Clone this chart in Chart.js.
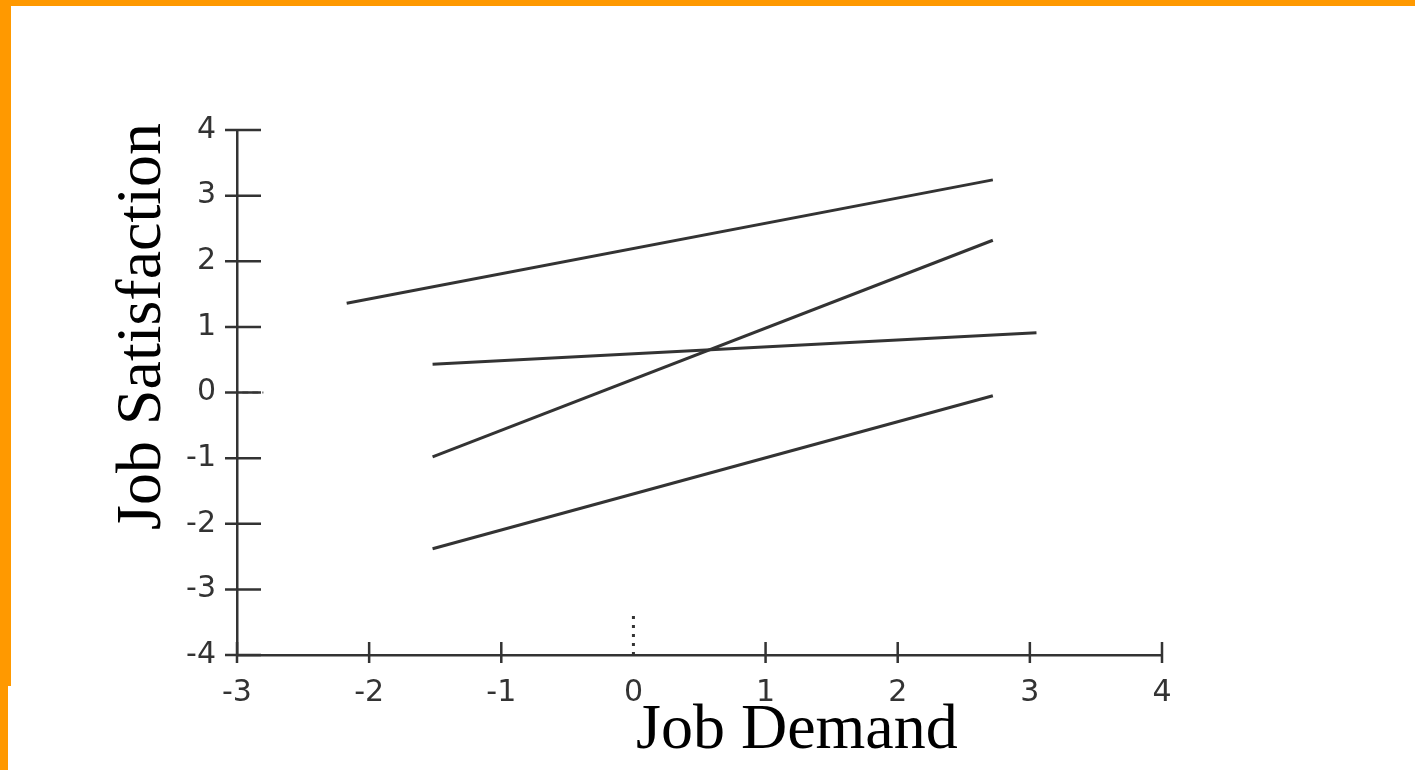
<!DOCTYPE html>
<html>
<head>
<meta charset="utf-8">
<script src="https://cdn.jsdelivr.net/npm/chart.js@4.4.1/dist/chart.umd.min.js"></script>
<style>
    html, body { margin: 0; padding: 0; background: #fff; }
    #wrap { position: relative; width: 1415px; height: 770px; overflow: hidden; }
    .frame { position: absolute; background: #FF9900; }
</style>
</head>
<body>
<div id="wrap">
    <canvas id="interactionChart"></canvas>
    <div class="frame" style="left:0;top:0;width:1415px;height:6px;"></div>
    <div class="frame" style="left:0;top:0;width:11px;height:686px;"></div>
    <div class="frame" style="left:0;top:686px;width:8px;height:84px;"></div>
</div>
<script>
// axis ranges and tick labels
const demandTicks = [-3, -2, -1, 0, 1, 2, 3, 4];
const satisfactionTicks = [-4, -3, -2, -1, 0, 1, 2, 3, 4];

// simple slopes (start / end of each line)
const topLineX = [-2.17, 2.72];
const topLineY = [1.36, 3.24];
const steepLineX = [-1.52, 2.72];
const steepLineY = [-0.98, 2.32];
const flatLineX = [-1.52, 3.05];
const flatLineY = [0.43, 0.91];
const lowLineX = [-1.52, 2.72];
const lowLineY = [-2.38, -0.05];

// small zero markers
const zeroMarkX = [0, 0];
const zeroMarkY = [-4, -3.34];
const zeroMarkYX = [-2.96, -2.8];
const zeroMarkYY = [0, 0];

const ink = '#333333';

function toPoints(xs, ys) {
    return xs.map((x, i) => ({ x: x, y: ys[i] }));
}

class InteractionChart {
    constructor() {
        this.initChart();
    }

    lineDataset(xs, ys) {
        return {
            data: toPoints(xs, ys),
            showLine: true,
            borderColor: ink,
            borderWidth: 3,
            pointRadius: 0,
            tension: 0
        };
    }

    initChart() {
        const ctx = document.getElementById('interactionChart').getContext('2d');

        // crossing tick marks, drawn from the scales
        const crossTicks = {
            id: 'crossTicks',
            afterDraw(chart) {
                const c = chart.ctx;
                const xs = chart.scales.x;
                const ys = chart.scales.y;
                const area = chart.chartArea;
                c.save();
                c.strokeStyle = ink;
                c.lineWidth = 2.5;
                c.beginPath();
                demandTicks.forEach(v => {
                    if (v === 0) return;
                    const px = xs.getPixelForValue(v);
                    c.moveTo(px, area.bottom - 13);
                    c.lineTo(px, area.bottom + 8);
                });
                satisfactionTicks.forEach(v => {
                    const py = ys.getPixelForValue(v);
                    c.moveTo(area.left - 12, py);
                    c.lineTo(area.left + 24, py);
                });
                c.stroke();
                c.restore();
            }
        };

        // axis titles, placed as in the figure
        const axisTitles = {
            id: 'axisTitles',
            afterDraw(chart) {
                const c = chart.ctx;
                c.save();
                c.fillStyle = '#000';
                c.font = '64px "Liberation Serif", "Times New Roman", serif';
                c.textAlign = 'left';
                c.textBaseline = 'alphabetic';
                c.fillText('Job Demand', 636, 748);
                c.translate(160, 530);
                c.rotate(-Math.PI / 2);
                c.fillText('Job Satisfaction', 0, 0);
                c.restore();
            }
        };

        const tickFont = { family: '"DejaVu Sans", Verdana, sans-serif', size: 30 };

        this.chart = new Chart(ctx, {
            type: 'scatter',
            data: {
                datasets: [
                    this.lineDataset(topLineX, topLineY),
                    this.lineDataset(steepLineX, steepLineY),
                    this.lineDataset(flatLineX, flatLineY),
                    this.lineDataset(lowLineX, lowLineY),
                    Object.assign(this.lineDataset(zeroMarkX, zeroMarkY), { borderDash: [3, 6], borderWidth: 3 }),
                    Object.assign(this.lineDataset(zeroMarkYX, zeroMarkYY), { borderDash: [6, 4], borderWidth: 2, borderColor: '#666' })
                ]
            },
            options: {
                responsive: true,
                maintainAspectRatio: false,
                animation: false,
                layout: {
                    padding: { left: 0, top: 130, right: 253, bottom: 0 }
                },
                plugins: {
                    legend: { display: false },
                    tooltip: { enabled: false },
                    title: { display: false }
                },
                scales: {
                    x: {
                        type: 'linear',
                        min: demandTicks[0],
                        max: demandTicks[demandTicks.length - 1],
                        afterFit: scale => { scale.height = 115; },
                        afterBuildTicks: scale => { scale.ticks = demandTicks.map(v => ({ value: v })); },
                        grid: { display: false },
                        border: { display: true, color: ink, width: 2.5 },
                        ticks: { color: '#333', font: tickFont, padding: 12, maxRotation: 0 }
                    },
                    y: {
                        type: 'linear',
                        min: satisfactionTicks[0],
                        max: satisfactionTicks[satisfactionTicks.length - 1],
                        afterFit: scale => { scale.width = 237; },
                        afterBuildTicks: scale => { scale.ticks = satisfactionTicks.map(v => ({ value: v })); },
                        grid: { display: false },
                        border: { display: true, color: ink, width: 2.5 },
                        ticks: { color: '#333', font: tickFont, padding: 13 }
                    }
                }
            },
            plugins: [crossTicks, axisTitles]
        });
    }
}

document.addEventListener('DOMContentLoaded', () => {
    const chart = new InteractionChart();
});
</script>
</body>
</html>
